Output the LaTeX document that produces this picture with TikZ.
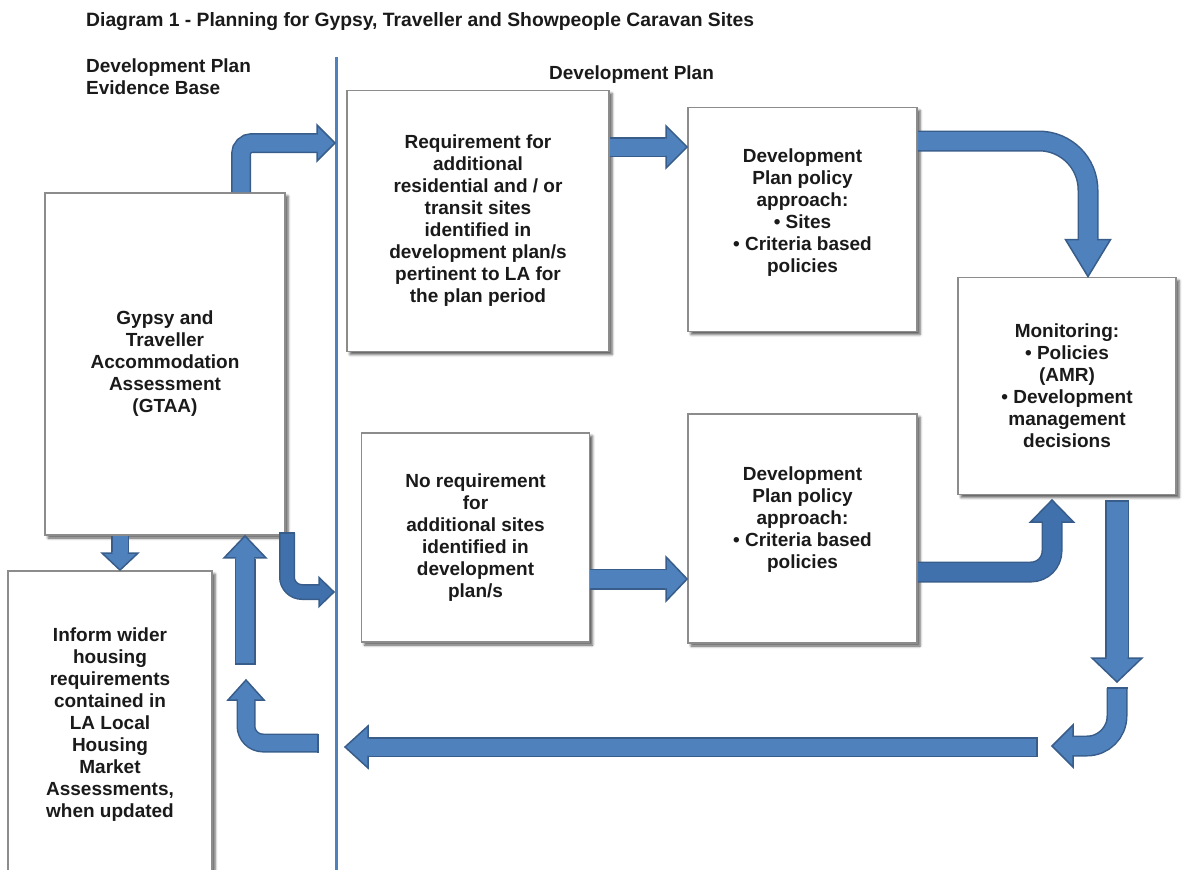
\documentclass[tikz,border=0pt]{standalone}
\usepackage{fontspec}
\setmainfont{Liberation Sans}
\usetikzlibrary{shadows.blur}

\definecolor{arrowblue}{HTML}{4F81BD}
\definecolor{arrowdark}{HTML}{4171AC}
\definecolor{arrowedge}{HTML}{385D8A}
\definecolor{boxgray}{HTML}{8C8C8C}
\definecolor{inkcol}{HTML}{1A1A1A}

\newcommand\diafont{\fontsize{19pt}{22pt}\selectfont\bfseries}

% arrow head: tip, direction angle, length, head half width, shaft half width, fill colour
\newcommand\arrowhead[6]{%
  \begin{scope}[shift={#1}, rotate=#2]
    \fill[#6] (-#3-1,-#5) -- (-#3,-#5) -- (-#3,-#4) -- (0,0) -- (-#3,#4) -- (-#3,#5) -- (-#3-1,#5) -- cycle;
    \draw[edgeline] (-#3-0.6,-#5) -- (-#3,-#5) -- (-#3,-#4) -- (0,0) -- (-#3,#4) -- (-#3,#5) -- (-#3-0.6,#5);
  \end{scope}}
% closing edge across the tail of a block arrow: point, direction angle, half width
\newcommand\tailcap[3]{%
  \draw[edgeline, shift={#1}, rotate=#2] (0,-#3) -- (0,#3);}

\tikzset{
  x=1pt, y=-1pt,
  every node/.style={text=inkcol, font=\diafont},
  heading/.style={anchor=base west, inner sep=0pt},
  box/.style={draw=boxgray, line width=1.8pt, fill=white, inner sep=0pt,
    align=center,
    blur shadow={shadow xshift=3pt, shadow yshift=-3pt, shadow blur radius=2.5pt, shadow opacity=65}},
  boxtext/.style={align=center, inner sep=0pt},
  edgeline/.style={draw=arrowedge, line width=1.5pt, line join=miter},
  shaft/.style={draw=arrowedge, line width=1.5pt, double=arrowblue, double distance=#1},
  darkshaft/.style={draw=arrowedge, line width=1.5pt, double=arrowdark, double distance=#1},
}

\begin{document}
\begin{tikzpicture}
\useasboundingbox (0,0) rectangle (1192,870);
\clip (0,0) rectangle (1192,870);

% headings
\node[heading, font=\fontsize{19.3pt}{22pt}\selectfont\bfseries] (title) at (86,27)
  {Diagram 1 - Planning for Gypsy, Traveller and Showpeople Caravan Sites};
\node[heading] (evid1) at (86,72) {Development Plan};
\node[heading] (evid2) at (86,94) {Evidence Base};
\node[heading] (devplan) at (549,79) {Development Plan};

% divider between evidence base and plan
\coordinate (divtop) at (336,57);
\coordinate (divbot) at (336,870);
\draw[arrowblue, line width=3pt] (divtop) -- (divbot);

% boxes
\node[box, minimum width=240pt, minimum height=342pt] (gtaa) at (165,364)
  {Gypsy and\\Traveller\\Accommodation\\Assessment\\(GTAA)};
\node[box, minimum width=204pt, minimum height=308pt] (inform) at (110,725)
  {Inform wider\\housing\\requirements\\contained in\\LA Local\\Housing\\Market\\Assessments,\\when updated};
\node[box, minimum width=262pt, minimum height=261pt] (req) at (478,221)
  {Requirement for\\additional\\residential and / or\\transit sites\\identified in\\development plan/s\\pertinent to LA for\\the plan period};
\node[box, minimum width=229pt, minimum height=224pt] (dptop) at (802.5,219.5) {};
\node[boxtext, yshift=6.5pt] (dptoptext) at (dptop.center)
  {Development\\Plan policy\\approach:\\\textbullet\ Sites\\\textbullet\ Criteria based\\policies};
\node[box, minimum width=218pt, minimum height=217pt] (monitor) at (1067,386)
  {Monitoring:\\\textbullet\ Policies\\(AMR)\\\textbullet\ Development\\management\\decisions};
\node[box, minimum width=228pt, minimum height=209pt] (noreq) at (475.5,537.5)
  {No requirement\\for\\additional sites\\identified in\\development\\plan/s};
\node[box, minimum width=229pt, minimum height=229pt] (dpbot) at (802.5,528.5) {};
\node[boxtext, yshift=9pt] (dpbottext) at (dpbot.center)
  {Development\\Plan policy\\approach:\\\textbullet\ Criteria based\\policies};

% GTAA up and across into the development plan
\draw[shaft=17pt, rounded corners=11pt] (gtaa.north -| 241,0) -- (241,143) -- (317,143);
\arrowhead{(335,143)}{0}{18}{18}{9.25}{arrowblue}

% requirement -> policy approach (sites)
\draw[shaft=17pt] (req.east |- 0,147) -- (672,147);
\arrowhead{(dptop.west |- 0,147)}{0}{21}{21}{9.25}{arrowblue}

% policy approach (sites) -> monitoring
\draw[shaft=18pt, rounded corners=49pt] (dptop.east |- 0,141) -- (1088,141) -- (1088,240);
\arrowhead{(monitor.north -| 1088,0)}{270}{37}{22.5}{9.75}{arrowblue}

% no requirement -> policy approach (criteria)
\draw[shaft=18pt] (noreq.east |- 0,579) -- (672,579);
\arrowhead{(dpbot.west |- 0,579)}{0}{21}{22}{9.75}{arrowblue}

% policy approach (criteria) -> monitoring
\draw[darkshaft=18pt, rounded corners=21pt] (dpbot.east |- 0,572) -- (1052,572) -- (1052,522);
\arrowhead{(1052,500)}{90}{22}{21.5}{9.75}{arrowdark}

% monitoring down the right side
\draw[shaft=21pt] (1117,501) -- (1117,658);
\tailcap{(1117,501)}{270}{12}
\arrowhead{(1117,682)}{270}{24}{25}{11.25}{arrowblue}

\draw[shaft=18pt, rounded corners=30pt] (1117,688) -- (1117,746) -- (1073,746);
\tailcap{(1117,688)}{270}{10.5}
\arrowhead{(1052,746)}{180}{21}{21}{9.75}{arrowblue}

% feedback along the bottom back to the evidence base
\draw[shaft=17pt] (1037,747) -- (368,747);
\tailcap{(1037,747)}{180}{10}
\arrowhead{(345,747)}{180}{23}{21}{9.25}{arrowblue}

\draw[shaft=16pt, rounded corners=17pt] (318,743) -- (246,743) -- (246,700);
\tailcap{(318,743)}{180}{9.5}
\arrowhead{(246,680)}{90}{20}{18}{8.75}{arrowblue}

\draw[shaft=18pt] (245,664) -- (245,559);
\tailcap{(245,664)}{90}{10.5}
\arrowhead{(gtaa.south -| 245,0)}{90}{22}{21}{9.75}{arrowblue}

% GTAA -> wider housing requirements
\draw[shaft=15pt] (gtaa.south -| 120,0) -- (120,559);
\arrowhead{(inform.north -| 120,0)}{270}{17}{18}{8.25}{arrowblue}

% GTAA -> no requirement branch
\draw[darkshaft=13pt, rounded corners=15pt] (287,533) -- (287,592) -- (319,592);
\tailcap{(287,533)}{270}{8}
\arrowhead{(334,592)}{0}{15}{14.5}{7.25}{arrowdark}
\end{tikzpicture}
\end{document}
